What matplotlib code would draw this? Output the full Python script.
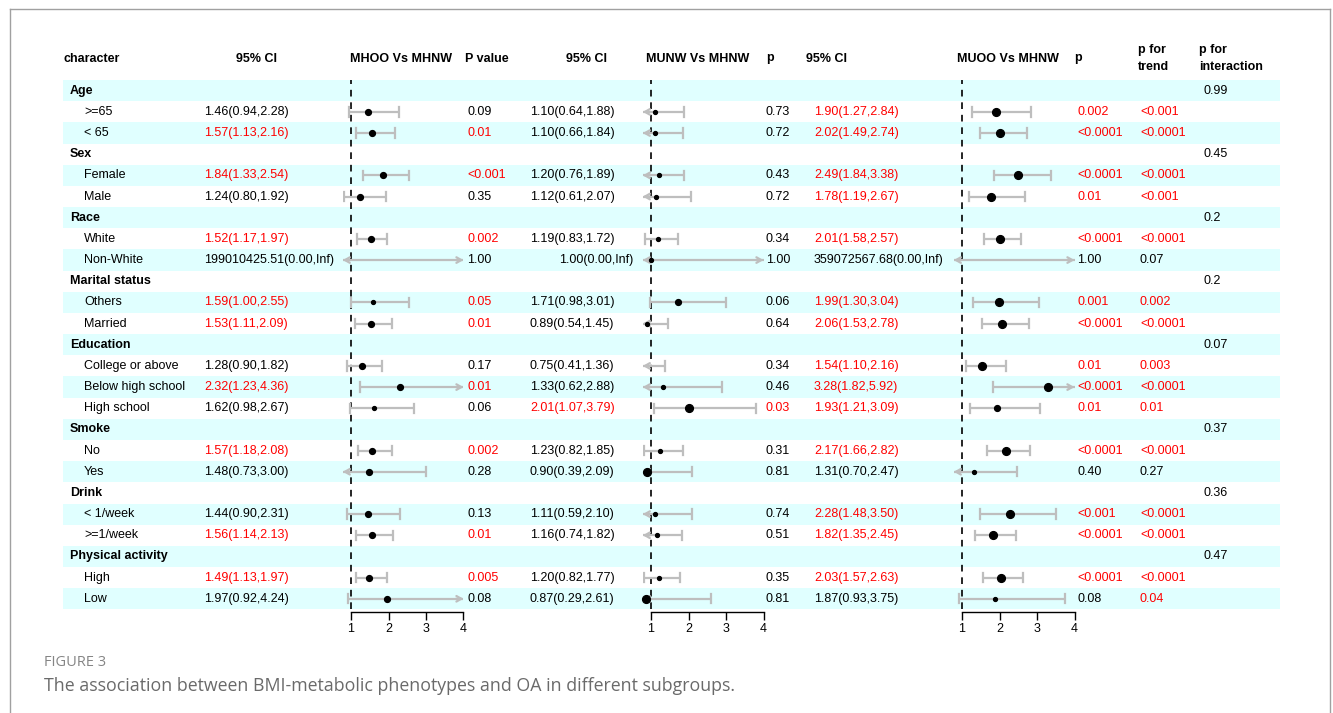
import math
import matplotlib
matplotlib.use("Agg")
import matplotlib.pyplot as plt

# ---------------------------------------------------------------- data
groups = ["Age", "Sex", "Race", "Marital status", "Education",
          "Smoke", "Drink", "Physical activity"]
group_sizes = [2, 2, 2, 2, 3, 2, 2, 2]
p_interaction = ["0.99", "0.45", "0.2", "0.2", "0.07", "0.37", "0.36", "0.47"]

subgroups = [">=65", "< 65", "Female", "Male", "White", "Non-White",
             "Others", "Married", "College or above", "Below high school",
             "High school", "No", "Yes", "< 1/week", ">=1/week", "High", "Low"]

INF = float("inf")

# MHOO vs MHNW
mhoo_or = [1.46, 1.57, 1.84, 1.24, 1.52, 199010425.51, 1.59, 1.53, 1.28, 2.32,
           1.62, 1.57, 1.48, 1.44, 1.56, 1.49, 1.97]
mhoo_lo = [0.94, 1.13, 1.33, 0.80, 1.17, 0.00, 1.00, 1.11, 0.90, 1.23,
           0.98, 1.18, 0.73, 0.90, 1.14, 1.13, 0.92]
mhoo_hi = [2.28, 2.16, 2.54, 1.92, 1.97, INF, 2.55, 2.09, 1.82, 4.36,
           2.67, 2.08, 3.00, 2.31, 2.13, 1.97, 4.24]
mhoo_p = ["0.09", "0.01", "<0.001", "0.35", "0.002", "1.00", "0.05", "0.01",
          "0.17", "0.01", "0.06", "0.002", "0.28", "0.13", "0.01", "0.005", "0.08"]
mhoo_w = [2, 2, 2, 2, 2, 1, 1, 2, 2, 2, 1, 2, 2, 2, 2, 2, 2]

# MUNW vs MHNW
munw_or = [1.10, 1.10, 1.20, 1.12, 1.19, 1.00, 1.71, 0.89, 0.75, 1.33,
           2.01, 1.23, 0.90, 1.11, 1.16, 1.20, 0.87]
munw_lo = [0.64, 0.66, 0.76, 0.61, 0.83, 0.00, 0.98, 0.54, 0.41, 0.62,
           1.07, 0.82, 0.39, 0.59, 0.74, 0.82, 0.29]
munw_hi = [1.88, 1.84, 1.89, 2.07, 1.72, INF, 3.01, 1.45, 1.36, 2.88,
           3.79, 1.85, 2.09, 2.10, 1.82, 1.77, 2.61]
munw_p = ["0.73", "0.72", "0.43", "0.72", "0.34", "1.00", "0.06", "0.64",
          "0.34", "0.46", "0.03", "0.31", "0.81", "0.74", "0.51", "0.35", "0.81"]
munw_w = [1, 1, 1, 1, 1, 1, 2, 1, 1, 1, 3, 1, 3, 1, 1, 1, 3]

# MUOO vs MHNW
muoo_or = [1.90, 2.02, 2.49, 1.78, 2.01, 359072567.68, 1.99, 2.06, 1.54, 3.28,
           1.93, 2.17, 1.31, 2.28, 1.82, 2.03, 1.87]
muoo_lo = [1.27, 1.49, 1.84, 1.19, 1.58, 0.00, 1.30, 1.53, 1.10, 1.82,
           1.21, 1.66, 0.70, 1.48, 1.35, 1.57, 0.93]
muoo_hi = [2.84, 2.74, 3.38, 2.67, 2.57, INF, 3.04, 2.78, 2.16, 5.92,
           3.09, 2.82, 2.47, 3.50, 2.45, 2.63, 3.75]
muoo_p = ["0.002", "<0.0001", "<0.0001", "0.01", "<0.0001", "1.00", "0.001",
          "<0.0001", "0.01", "<0.0001", "0.01", "<0.0001", "0.40", "<0.001",
          "<0.0001", "<0.0001", "0.08"]
muoo_w = [3, 3, 3, 3, 3, 1, 3, 3, 3, 3, 2, 3, 1, 3, 3, 3, 1]

p_trend = ["<0.001", "<0.0001", "<0.0001", "<0.001", "<0.0001", "0.07",
           "0.002", "<0.0001", "0.003", "<0.0001", "0.01", "<0.0001", "0.27",
           "<0.0001", "<0.0001", "<0.0001", "0.04"]

x_ticks = [1, 2, 3, 4]

# ---------------------------------------------------------------- style
FONT = "Liberation Sans"
FS = 9
RED = "#FF0000"
SHADE = "#E0FFFF"
CI_GREY = "#BEBEBE"
XMIN, XMAX = 0.78, 4.0

W, H = 1333, 713
ROW0, ROWH = 90.7, 21.17          # centre of first body row and row pitch (px)


def sig(p):
    return p.startswith("<") or float(p) <= 0.05


def colour(p):
    return RED if sig(p) else "black"


def fmt(v):
    return "Inf" if math.isinf(v) else f"{v:.2f}"


def ci_text(e, lo, hi):
    return f"{fmt(e)}({fmt(lo)},{fmt(hi)})"


fig = plt.figure(figsize=(W / 100, H / 100), dpi=100)
fig.patch.set_facecolor("white")

# table layer: x in pixels, y in row units
tab = fig.add_axes([0, 0, 1, 1])
tab.set_xlim(0, W)
tab.set_ylim((H - ROW0) / ROWH, -ROW0 / ROWH)
tab.axis("off")


def px_to_row(ypx):
    return (ypx - ROW0) / ROWH


# outer frame
frame_kw = dict(color="#A0A0A0", lw=1.0, zorder=0)
tab.plot([10, 10], [px_to_row(9), px_to_row(H)], **frame_kw)
tab.plot([10, 1330], [px_to_row(9), px_to_row(9)], **frame_kw)
tab.plot([1330, 1330], [px_to_row(9), px_to_row(H)], **frame_kw)

# build row list
rows = []     # (kind, index)
s = 0
for g, n in enumerate(group_sizes):
    rows.append(("group", g))
    for _ in range(n):
        rows.append(("sub", s))
        s += 1

n_rows = len(rows)
for r in range(0, n_rows, 2):
    tab.fill_between([63, 1280], r - 0.5, r + 0.5, color=SHADE, lw=0, zorder=0.5)

txt = dict(fontfamily=FONT, fontsize=FS, va="center", ha="left")

# header
hy = px_to_row(58.5)
hb = dict(txt, fontweight="bold")
tab.text(63, hy, "character", **hb)
tab.text(236, hy, "95% CI", **hb)
tab.text(350, hy, "MHOO Vs MHNW", **hb)
tab.text(465, hy, "P value", **hb)
tab.text(566, hy, "95% CI", **hb)
tab.text(646, hy, "MUNW Vs MHNW", **hb)
tab.text(766, hy, "p", **hb)
tab.text(806, hy, "95% CI", **hb)
tab.text(957, hy, "MUOO Vs MHNW", **hb)
tab.text(1074, hy, "p", **hb)
tab.text(1138, hy, "p for\ntrend", linespacing=1.45, **hb)
tab.text(1199, hy, "p for\ninteraction", linespacing=1.45, **hb)

panels = [
    (mhoo_or, mhoo_lo, mhoo_hi, mhoo_p, mhoo_w, 204, 467, 351),
    (munw_or, munw_lo, munw_hi, munw_p, munw_w, 530, 766, 651),
    (muoo_or, muoo_lo, muoo_hi, muoo_p, muoo_w, 814, 1077, 962),
]
# the unbounded estimate in the middle panel is printed slightly indented
indent = {(1, "Non-White"): 29}

for r, (kind, i) in enumerate(rows):
    if kind == "group":
        tab.text(70, r, groups[i], fontweight="bold", **txt)
        tab.text(1203, r, p_interaction[i], color="black", **txt)
        continue
    tab.text(84, r, subgroups[i], **txt)
    for k, (est, lo, hi, pv, _, x_ci, x_p, _) in enumerate(panels):
        c = colour(pv[i])
        dx = indent.get((k, subgroups[i]), 0)
        tab.text(x_ci + dx, r, ci_text(est[i], lo[i], hi[i]), color=c, **txt)
        tab.text(x_p, r, pv[i], color=c, **txt)
    tab.text(1140, r, p_trend[i], color=colour(p_trend[i]), **txt)

# forest panels
PX_PER_UNIT = 37.5
bottom_px = ROW0 + ROWH * (n_rows - 0.5)
top_px = ROW0 - ROWH * 0.5
msize = {1: 2.8, 2: 4.2, 3: 5.6}

for est, lo, hi, pv, wt, _, _, x_one in panels:
    left_px = x_one - (1 - XMIN) * PX_PER_UNIT
    width_px = (XMAX - XMIN) * PX_PER_UNIT
    ax = fig.add_axes([left_px / W, 1 - bottom_px / H,
                       width_px / W, (bottom_px - top_px) / H])
    ax.patch.set_visible(False)
    ax.set_xlim(XMIN, XMAX)
    ax.set_ylim(n_rows - 0.5, -0.5)
    for sp in ("left", "top", "right"):
        ax.spines[sp].set_visible(False)
    ax.spines["bottom"].set_position(("outward", 2))
    ax.spines["bottom"].set_bounds(1, 4)
    ax.spines["bottom"].set_linewidth(1.0)
    ax.set_yticks([])
    ax.set_xticks(x_ticks)
    ax.set_xticklabels([str(t) for t in x_ticks], fontfamily=FONT, fontsize=FS)
    ax.tick_params(axis="x", direction="out", length=6, width=1.0, pad=2)

    ax.axvline(1, color="black", lw=1.2, ls=(0, (4, 3.5)), zorder=1)

    for r, (kind, i) in enumerate(rows):
        if kind != "sub":
            continue
        a, b = max(lo[i], XMIN), min(hi[i], XMAX)
        ax.plot([a, b], [r, r], color=CI_GREY, lw=1.6, zorder=2,
                solid_capstyle="butt", clip_on=False)
        cap = 0.22
        head = "->,head_length=0.35,head_width=0.2"
        if lo[i] < XMIN:
            ax.annotate("", xy=(XMIN, r), xytext=(XMIN + 0.2, r),
                        arrowprops=dict(arrowstyle=head, color=CI_GREY, lw=1.6,
                                        shrinkA=0, shrinkB=0), zorder=2)
        else:
            ax.plot([lo[i], lo[i]], [r - cap, r + cap], color=CI_GREY, lw=1.6, zorder=2)
        if hi[i] > XMAX:
            ax.annotate("", xy=(XMAX, r), xytext=(XMAX - 0.2, r),
                        arrowprops=dict(arrowstyle=head, color=CI_GREY, lw=1.6,
                                        shrinkA=0, shrinkB=0), zorder=2)
        else:
            ax.plot([hi[i], hi[i]], [r - cap, r + cap], color=CI_GREY, lw=1.6, zorder=2)
        if XMIN <= est[i] <= XMAX:
            ax.plot([est[i]], [r], "o", color="black", ms=msize[wt[i]],
                    zorder=3, clip_on=False)

# caption
fig.text(44 / W, 1 - 662 / H, "FIGURE 3", fontfamily="Open Sans",
         fontsize=10.5, color="#858585", va="center", ha="left")
fig.text(44 / W, 1 - 686 / H,
         "The association between BMI-metabolic phenotypes and OA in different subgroups.",
         fontfamily="Open Sans", fontsize=12.8, color="#6a6a6a",
         va="center", ha="left")

fig.savefig("out.png", dpi=100, facecolor="white")
